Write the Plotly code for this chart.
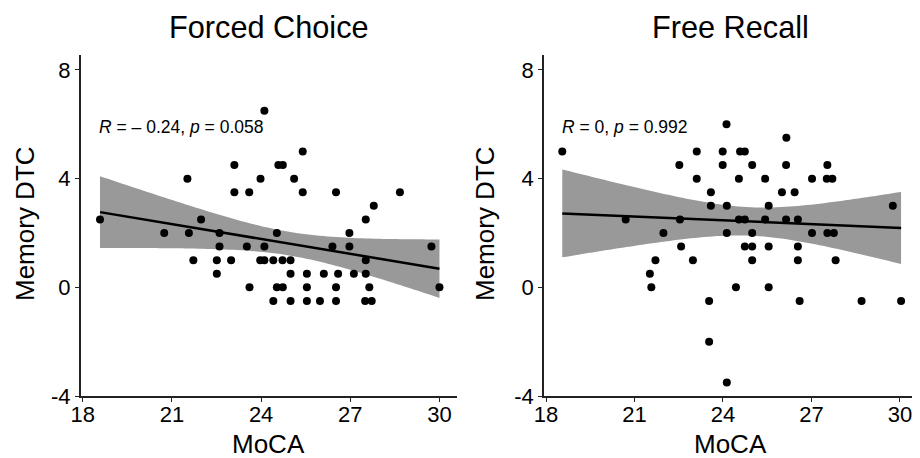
import numpy as np
import plotly.graph_objects as go

# ---------------- data ----------------
fc_moca = [18.58, 21.52, 23.10, 23.98, 23.10, 23.60, 24.58, 21.98, 20.74, 21.57,
           22.60, 22.60, 23.52, 24.11, 24.53, 21.72, 22.51, 22.99, 23.97, 24.11,
           24.41, 22.51, 23.61, 24.53, 24.41, 24.11, 25.40, 24.73, 25.11, 25.40,
           26.52, 28.67, 27.79, 27.52, 26.97, 26.40, 26.97, 29.73, 24.72, 24.99,
           27.52, 24.99, 25.54, 26.11, 26.59, 27.12, 27.52, 24.73, 25.54, 26.52,
           27.64, 30.00, 24.99, 25.54, 25.98, 26.52, 27.50, 27.72]
fc_dtc = [2.5, 4, 4.5, 4, 3.5, 3.5, 4.5, 2.5, 2, 2,
          2, 1.5, 1.5, 1.5, 2, 1, 1, 1, 1, 1,
          1, 0.5, 0, 0, -0.5, 6.5, 5, 4.5, 4, 3.5,
          3.5, 3.5, 3, 2.5, 2, 1.5, 1.5, 1.5, 1, 1,
          1, 0.5, 0.5, 0.5, 0.5, 0.5, 0.5, 0, 0, 0,
          0, 0, -0.5, -0.5, -0.5, -0.5, -0.5, -0.5]

fr_moca = [18.55, 20.70, 22.54, 21.98, 22.52, 23.11, 23.11, 23.59, 23.59, 22.58,
           21.71, 22.98, 21.52, 21.57, 23.53, 23.53, 24.12, 26.15, 23.99, 24.58,
           24.74, 23.99, 24.99, 26.14, 27.54, 24.54, 25.43, 27.02, 27.52, 27.71,
           26.00, 26.43, 24.13, 25.55, 29.76, 24.54, 24.74, 25.43, 26.14, 26.54,
           24.13, 24.99, 27.02, 27.54, 27.76, 24.74, 24.99, 25.55, 26.54, 24.99,
           26.54, 27.82, 24.44, 25.55, 26.60, 28.70, 30.04, 24.13]
fr_dtc = [5, 2.5, 2.5, 2, 4.5, 5, 4, 3.5, 3, 1.5,
          1, 1, 0.5, 0, -0.5, -2, 6, 5.5, 5, 5,
          5, 4.5, 4.5, 4.5, 4.5, 4, 4, 4, 4, 4,
          3.5, 3.5, 3, 3, 3, 2.5, 2.5, 2.5, 2.5, 2.5,
          2, 2, 2, 2, 2, 1.5, 1.5, 1.5, 1.5, 1,
          1, 1, 0, 0, -0.5, -0.5, -0.5, -3.5]

panel_titles = ["Forced Choice", "Free Recall"]
stat_labels = ["<i>R</i> = – 0.24, <i>p</i> = 0.058", "<i>R</i> = 0, <i>p</i> = 0.992"]
x_ticks = [18, 21, 24, 27, 30]
y_ticks = [-4, 0, 4, 8]
y_ticktext = ["-4", "0", "4", "8"]
x_label = "MoCA"
y_label = "Memory DTC"

T_CRIT = 2.003  # t(0.975, df=56)


def lm_band(x, y, n_grid=80):
    x = np.asarray(x, float)
    y = np.asarray(y, float)
    n = len(x)
    b1, b0 = np.polyfit(x, y, 1)
    resid = y - (b0 + b1 * x)
    s = np.sqrt(np.sum(resid ** 2) / (n - 2))
    xbar = x.mean()
    sxx = np.sum((x - xbar) ** 2)
    g = np.linspace(x.min(), x.max(), n_grid)
    fit = b0 + b1 * g
    se = s * np.sqrt(1.0 / n + (g - xbar) ** 2 / sxx)
    return g, fit, fit - T_CRIT * se, fit + T_CRIT * se


FONT = "Liberation Sans, Arial, sans-serif"
OFF = 8                       # page body margin in the browser
W, H = 920 - OFF, 458 - OFF   # figure size so it ends at the window edge


def px(p):   # page x pixel -> paper fraction
    return (p - OFF) / W


def py(p):   # page y pixel -> paper fraction
    return 1 - (p - OFF) / H


fig = go.Figure()

panels = [(fc_moca, fc_dtc), (fr_moca, fr_dtc)]
for i, (xs, ys) in enumerate(panels):
    xa = "x" if i == 0 else "x2"
    ya = "y" if i == 0 else "y2"
    g, fit, lo, hi = lm_band(xs, ys)
    fig.add_trace(go.Scatter(x=np.concatenate([g, g[::-1]]),
                             y=np.concatenate([hi, lo[::-1]]),
                             fill="toself", fillcolor="#999999", mode="none",
                             xaxis=xa, yaxis=ya, showlegend=False, hoverinfo="skip"))
    fig.add_trace(go.Scatter(x=xs, y=ys, mode="markers", xaxis=xa, yaxis=ya,
                             marker=dict(color="black", size=8), showlegend=False))
    fig.add_trace(go.Scatter(x=g, y=fit, mode="lines", xaxis=xa, yaxis=ya,
                             line=dict(color="black", width=2.5), showlegend=False))

axis_common = dict(showgrid=False, zeroline=False, showline=True, linecolor="#222",
                   linewidth=1.5, ticks="outside", ticklen=4, tickwidth=1.2,
                   tickcolor="#222", automargin=False,
                   tickfont=dict(family=FONT, size=22, color="black"))

xdomains = [[px(80.7), px(456.7)], [px(544), px(917)]]
ydomain = [py(396), py(55)]
ytitle_x = [px(25), px(485)]

for i in range(2):
    sfx = "" if i == 0 else "2"
    fig.layout["xaxis" + sfx] = dict(
        axis_common, domain=xdomains[i], range=[17.93, 30.58],
        tickvals=x_ticks, anchor="y" + sfx, ticklabelstandoff=-6)
    fig.layout["yaxis" + sfx] = dict(
        axis_common, domain=ydomain, range=[-4, 8.55],
        tickvals=y_ticks, ticktext=y_ticktext, anchor="x" + sfx)
    xc = (xdomains[i][0] + xdomains[i][1]) / 2
    # panel title
    fig.add_annotation(text=panel_titles[i], xref="paper", yref="paper", x=xc,
                       y=py(28), xanchor="center", yanchor="middle",
                       showarrow=False, font=dict(family=FONT, size=30.7, color="black"))
    # x axis title
    fig.add_annotation(text=x_label, xref="paper", yref="paper", x=xc, y=0,
                       xanchor="center", yanchor="bottom", yshift=-3, showarrow=False,
                       font=dict(family=FONT, size=26, color="black"))
    # y axis title
    fig.add_annotation(text=y_label, xref="paper", yref="paper", x=ytitle_x[i],
                       y=py(224), xanchor="center", yanchor="middle",
                       textangle=-90, showarrow=False,
                       font=dict(family=FONT, size=26, color="black"))
    # correlation label
    fig.add_annotation(text=stat_labels[i], xref="x" + sfx, yref="y" + sfx,
                       x=18.48, y=5.9, xanchor="left", yanchor="middle",
                       showarrow=False, font=dict(family=FONT, size=17.5, color="black"))

fig.update_layout(width=W, height=H, margin=dict(l=0, r=0, t=0, b=0),
                  plot_bgcolor="white", paper_bgcolor="white",
                  font=dict(family=FONT, color="black"))

fig.write_html("out.html")
